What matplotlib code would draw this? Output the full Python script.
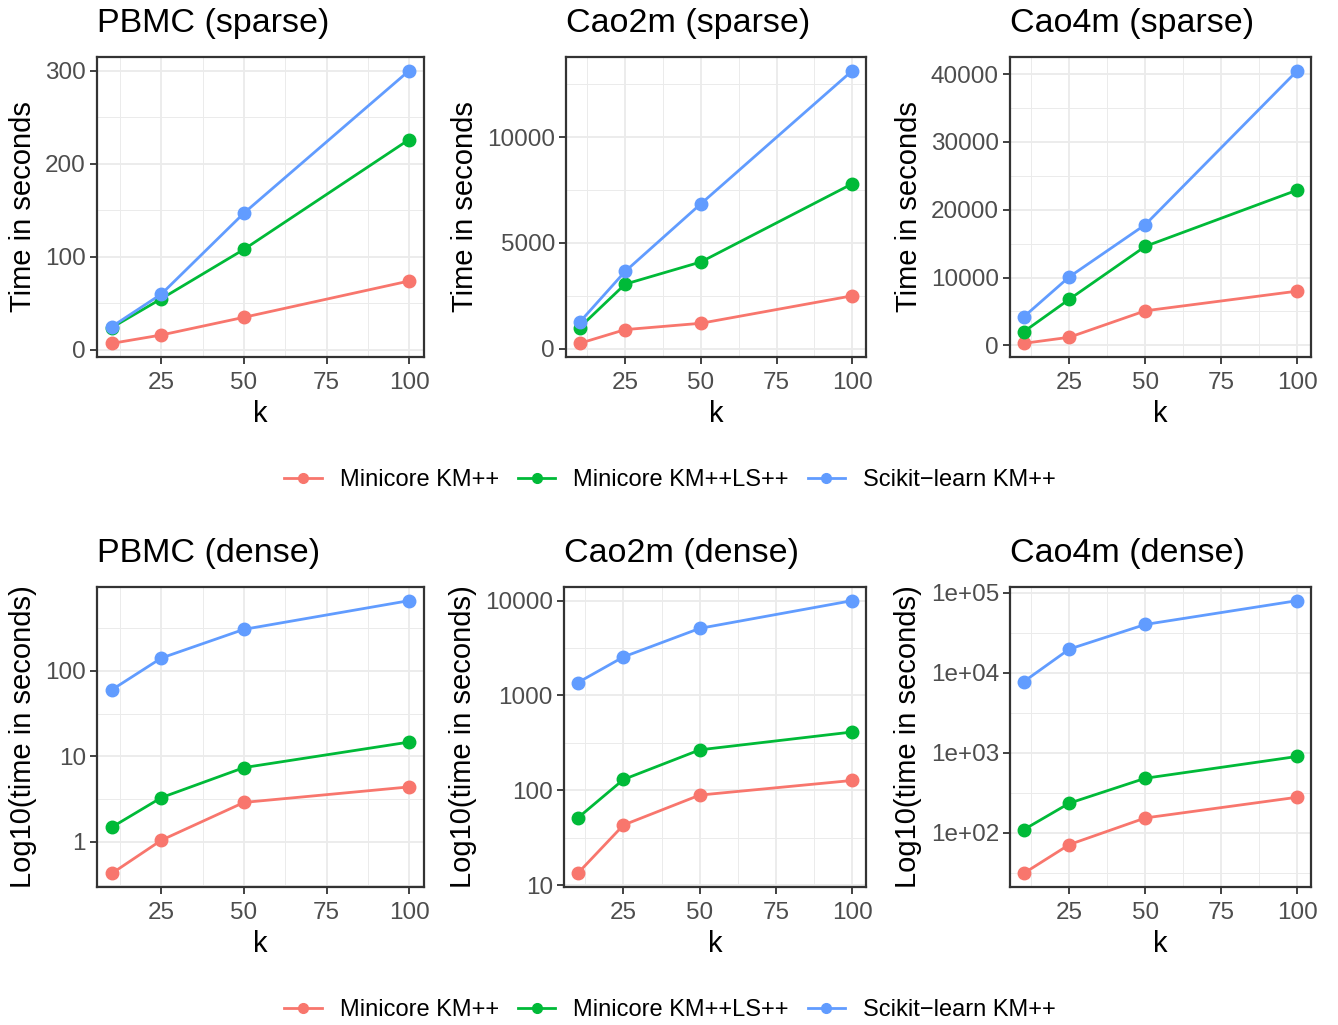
import numpy as np
import matplotlib
matplotlib.use("Agg")
import matplotlib.pyplot as plt
from matplotlib.lines import Line2D
from matplotlib.ticker import FixedLocator, FixedFormatter

plt.rcParams['font.family'] = ['Liberation Sans', 'DejaVu Sans']

# k values
k = [10, 25, 50, 100]

methods = ["Minicore KM++", "Minicore KM++LS++", "Scikit\u2212learn KM++"]
colors = ["#F8766D", "#00BA38", "#619CFF"]

# sparse timings (seconds)
pbmc_sparse_km = [7, 16, 35, 74]
pbmc_sparse_ls = [24, 55, 108, 226]
pbmc_sparse_sk = [25, 60, 147, 300]

cao2m_sparse_km = [250, 900, 1200, 2500]
cao2m_sparse_ls = [1000, 3050, 4100, 7800]
cao2m_sparse_sk = [1250, 3650, 6850, 13150]

cao4m_sparse_km = [300, 1200, 5100, 8000]
cao4m_sparse_ls = [2000, 6800, 14600, 22900]
cao4m_sparse_sk = [4200, 10100, 17800, 40500]

# dense timings (seconds)
pbmc_dense_km = [0.43, 1.05, 2.9, 4.4]
pbmc_dense_ls = [1.49, 3.3, 7.4, 14.7]
pbmc_dense_sk = [60, 141, 305, 660]

cao2m_dense_km = [13.3, 43, 89, 127]
cao2m_dense_ls = [51, 130, 267, 412]
cao2m_dense_sk = [1365, 2550, 5100, 10000]

cao4m_dense_km = [31, 71, 153, 278]
cao4m_dense_ls = [109, 234, 480, 900]
cao4m_dense_sk = [7740, 19800, 40300, 80000]

sparse_ticks = [[0, 100, 200, 300], [0, 5000, 10000], [0, 10000, 20000, 30000, 40000]]
dense_ticks = [[1, 10, 100], [10, 100, 1000, 10000], [100, 1000, 10000, 100000]]
dense_labels = [["1", "10", "100"], ["10", "100", "1000", "10000"],
                ["1e+02", "1e+03", "1e+04", "1e+05"]]

panels = [
    ("PBMC (sparse)", [pbmc_sparse_km, pbmc_sparse_ls, pbmc_sparse_sk], False, sparse_ticks[0], None),
    ("Cao2m (sparse)", [cao2m_sparse_km, cao2m_sparse_ls, cao2m_sparse_sk], False, sparse_ticks[1], None),
    ("Cao4m (sparse)", [cao4m_sparse_km, cao4m_sparse_ls, cao4m_sparse_sk], False, sparse_ticks[2], None),
    ("PBMC (dense)", [pbmc_dense_km, pbmc_dense_ls, pbmc_dense_sk], True, dense_ticks[0], dense_labels[0]),
    ("Cao2m (dense)", [cao2m_dense_km, cao2m_dense_ls, cao2m_dense_sk], True, dense_ticks[1], dense_labels[1]),
    ("Cao4m (dense)", [cao4m_dense_km, cao4m_dense_ls, cao4m_dense_sk], True, dense_ticks[2], dense_labels[2]),
]

W, H = 1338, 1025
fig = plt.figure(figsize=(W / 100, H / 100), dpi=100)

# panel boxes in pixels: left, top, width, height
boxes = [(97, 57, 327, 300), (566, 57, 300, 300), (1010, 57, 301, 300),
         (97, 587, 327, 300), (564, 587, 302, 300), (1010, 587, 301, 300)]

tick_gray = "#4D4D4D"
border = "#333333"

for (title, series, logy, ticks, labels), (l, t, w, h) in zip(panels, boxes):
    ax = fig.add_axes([l / W, 1 - (t + h) / H, w / W, h / H])
    for vals, c in zip(series, colors):
        ax.plot(k, vals, color=c, lw=2, marker='o', ms=9, zorder=3)

    # ggplot style 5% expansion
    xr = max(k) - min(k)
    ax.set_xlim(min(k) - 0.05 * xr, max(k) + 0.05 * xr)
    allv = np.concatenate([np.array(s, dtype=float) for s in series])
    if logy:
        ax.set_yscale('log')
        lo, hi = np.log10(allv.min()), np.log10(allv.max())
        r = hi - lo
        ax.set_ylim(10 ** (lo - 0.05 * r), 10 ** (hi + 0.05 * r))
        ax.yaxis.set_major_locator(FixedLocator(ticks))
        ax.yaxis.set_major_formatter(FixedFormatter(labels))
        minors = [10 ** (e + 0.5) for e in range(-2, 6)]
        ax.yaxis.set_minor_locator(FixedLocator(minors))
        ax.yaxis.set_minor_formatter(FixedFormatter([""] * len(minors)))
    else:
        lo, hi = allv.min(), allv.max()
        r = hi - lo
        ax.set_ylim(lo - 0.05 * r, hi + 0.05 * r)
        ax.set_yticks(ticks)
        step = ticks[1] - ticks[0]
        ax.yaxis.set_minor_locator(FixedLocator([v + step / 2 for v in [ticks[0] - step] + ticks]))

    ax.set_xticks([25, 50, 75, 100])
    ax.xaxis.set_minor_locator(FixedLocator([12.5, 37.5, 62.5, 87.5]))

    ax.grid(True, which='major', color='#EBEBEB', lw=1.3, zorder=0)
    ax.grid(True, which='minor', color='#EBEBEB', lw=0.7, zorder=0)
    ax.set_axisbelow(True)

    ax.tick_params(axis='both', which='major', labelsize=17.5, labelcolor=tick_gray,
                   color=border, length=5, width=1.3, pad=3)
    ax.tick_params(axis='x', which='major', pad=6)
    ax.tick_params(axis='both', which='minor', length=0)
    for sp in ax.spines.values():
        sp.set_color(border)
        sp.set_linewidth(1.6)

    ax.set_title(title, loc='left', fontsize=24.5, pad=18)
    ax.set_xlabel("k", fontsize=21, labelpad=4)
    ax.set_ylabel("Log10(time in seconds)" if logy else "Time in seconds", fontsize=21, labelpad=6)

handles = [Line2D([0], [0], color=c, lw=2, marker='o', ms=7) for c in colors]
for yc in [480, 1010]:
    fig.legend(handles, methods, loc='center', bbox_to_anchor=(670 / W, 1 - yc / H),
               ncol=3, frameon=False, fontsize=17, handlelength=1.6,
               columnspacing=0.8, handletextpad=0.75)

fig.savefig("out.png", dpi=100)
